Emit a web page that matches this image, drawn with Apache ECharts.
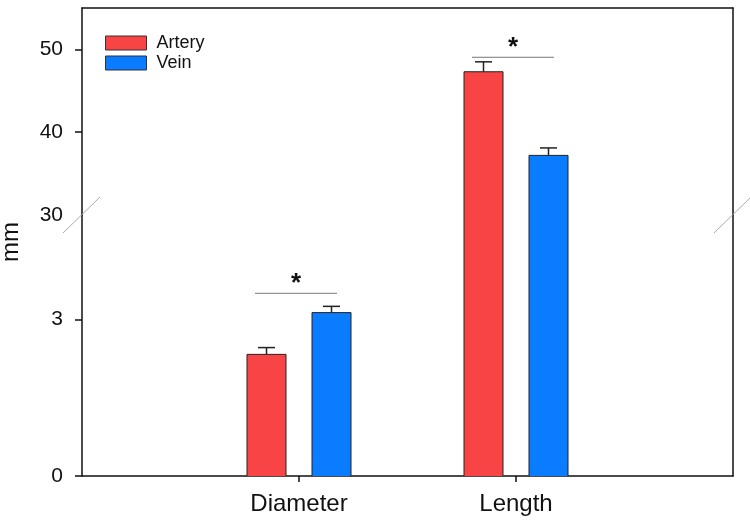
<!DOCTYPE html>
<html>
<head>
<meta charset="utf-8">
<title>Artery vs Vein</title>
<script src="https://cdn.jsdelivr.net/npm/echarts@6/dist/echarts.min.js"></script>
<style>
  html, body { margin: 0; padding: 0; background: #fff; }
  #chart { width: 750px; height: 525px; }
</style>
</head>
<body>
<div id="chart"></div>
<script>
// data
const categories = ['Diameter', 'Length'];
const arteryMean = [2.33, 47.3];
const arteryErr = [0.13, 1.2];
const veinMean = [3.13, 37.2];
const veinErr = [0.12, 0.9];
const sigLevel = [3.5, 49.05];
// broken axis: lower part 0-5, upper part 30-55
const lowerRange = [0, 5];
const upperRange = [30, 55];
const lowerTicks = [0, 3];
const upperTicks = [40, 50];
const upperLabels = [30, 40, 50];

const FONT = 'Liberation Sans, Arial, sans-serif';
const RED = '#F84444';
const BLUE = '#0A7CFF';
const BAR_W = 39;
const OFFSET = 32.5;

const axisCats = [''].concat(categories, ['']);
const arteryData = categories.map((c, i) => [c, arteryMean[i], arteryErr[i]]);
const veinData = categories.map((c, i) => [c, veinMean[i], veinErr[i]]);
const sigData = categories.map((c, i) => [c, sigLevel[i]]);

// bar with outline + error bar, clipped by hand so the break has no line across it
function barRender(offset) {
  return function (params, api) {
    const cs = params.coordSys;
    const cat = api.value(0), v = api.value(1), e = api.value(2);
    const top = api.coord([cat, v]);
    const base = api.coord([cat, 0]);
    const errTop = api.coord([cat, v + e]);
    const yMin = cs.y, yMax = cs.y + cs.height;
    const y0 = Math.max(top[1], yMin), y1 = Math.min(base[1], yMax);
    if (y1 <= y0) return { type: 'group', children: [] };
    const cx = top[0] + offset;
    const x0 = cx - BAR_W / 2, x1 = cx + BAR_W / 2;
    const line = { stroke: '#222', lineWidth: 1 };
    const kids = [
      { type: 'rect', shape: { x: x0, y: y0, width: BAR_W, height: y1 - y0 }, style: { fill: api.style().fill } },
      { type: 'line', shape: { x1: x0, y1: y0, x2: x0, y2: y1 }, style: line },
      { type: 'line', shape: { x1: x1, y1: y0, x2: x1, y2: y1 }, style: line }
    ];
    if (top[1] >= yMin) {
      kids.push({ type: 'line', shape: { x1: x0, y1: y0, x2: x1, y2: y0 }, style: line });
      const eb = { stroke: '#222', lineWidth: 1.5 };
      kids.push({ type: 'line', shape: { x1: cx, y1: top[1], x2: cx, y2: errTop[1] }, style: eb });
      kids.push({ type: 'line', shape: { x1: cx - 8.5, y1: errTop[1], x2: cx + 8.5, y2: errTop[1] }, style: eb });
    }
    return { type: 'group', children: kids };
  };
}

function sigRender(params, api) {
  const cs = params.coordSys;
  const p = api.coord([api.value(0), api.value(1)]);
  if (p[1] < cs.y || p[1] > cs.y + cs.height) return { type: 'group', children: [] };
  return {
    type: 'group',
    children: [
      { type: 'line', shape: { x1: p[0] - 44, y1: p[1], x2: p[0] + 38, y2: p[1] }, style: { stroke: '#777', lineWidth: 1 } },
      { type: 'text', x: p[0] - 3, y: p[1] - 22, style: { text: '*', font: 'bold 26px ' + FONT, fill: '#111', align: 'center', verticalAlign: 'top' } }
    ]
  };
}

function breakRender(params) {
  const cs = params.coordSys;
  const kids = [cs.x, cs.x + cs.width].map(x => ({
    type: 'line',
    shape: { x1: x - 19, y1: cs.y + 18, x2: x + 18, y2: cs.y - 18 },
    style: { stroke: '#aaa', lineWidth: 1 }
  }));
  return { type: 'group', children: kids };
}

const frameLine = { show: true, lineStyle: { color: '#111', width: 1.5 } };
const tickFn = (i, v) => v !== '';

function catAxis(grid, pos, withLabels) {
  return {
    type: 'category', gridIndex: grid, position: pos, data: axisCats, boundaryGap: false,
    axisLine: frameLine,
    axisTick: { show: withLabels, interval: tickFn, length: 6, lineStyle: { color: '#111', width: 1.5 } },
    axisLabel: { show: withLabels, interval: tickFn, fontSize: 24, fontFamily: FONT, color: '#111', margin: 16 },
    splitLine: { show: false }
  };
}

function valAxis(grid, pos, range, ticks, labels) {
  const show = !!ticks;
  return {
    type: 'value', gridIndex: grid, position: pos, min: range[0], max: range[1],
    axisLine: frameLine,
    axisTick: { show: show, customValues: ticks || [], length: 7, lineStyle: { color: '#111', width: 1.5 } },
    axisLabel: { show: show, customValues: labels || [], fontSize: 21, fontFamily: FONT, color: '#111', margin: 19 },
    splitLine: { show: false }
  };
}

const chart = echarts.init(document.getElementById('chart'));

const series = [];
[0, 1].forEach(g => {
  const yIdx = g * 2;
  series.push({
    name: 'Artery', type: 'custom', xAxisIndex: g, yAxisIndex: yIdx,
    itemStyle: { color: RED }, encode: { x: 0, y: 1 },
    renderItem: barRender(-OFFSET), data: arteryData
  });
  series.push({
    name: 'Vein', type: 'custom', xAxisIndex: g, yAxisIndex: yIdx,
    itemStyle: { color: BLUE }, encode: { x: 0, y: 1 },
    renderItem: barRender(OFFSET), data: veinData
  });
  series.push({
    type: 'custom', xAxisIndex: g, yAxisIndex: yIdx, silent: true,
    encode: { x: 0, y: 1 }, renderItem: sigRender, data: sigData
  });
});
series.push({
  type: 'custom', xAxisIndex: 0, yAxisIndex: 0, silent: true, z: 10,
  encode: { x: 0, y: 1 }, renderItem: breakRender, data: [['', 0]]
});

chart.setOption({
  animation: false,
  textStyle: { fontFamily: FONT },
  grid: [
    { left: 82, right: 17, top: 215, bottom: 49 },
    { left: 82, right: 17, top: 8, height: 207 }
  ],
  legend: {
    data: ['Artery', 'Vein'],
    orient: 'vertical', left: 100, top: 29,
    icon: 'rect', itemWidth: 41, itemHeight: 14, itemGap: 2,
    itemStyle: { borderColor: '#333', borderWidth: 1 },
    textStyle: { fontSize: 18, color: '#111', lineHeight: 18, padding: [0, 0, 0, 5] }
  },
  xAxis: [catAxis(0, 'bottom', true), catAxis(1, 'top', false)],
  yAxis: [
    valAxis(0, 'left', lowerRange, lowerTicks, lowerTicks),
    valAxis(0, 'right', lowerRange),
    valAxis(1, 'left', upperRange, upperTicks, upperLabels),
    valAxis(1, 'right', upperRange)
  ],
  graphic: [{
    type: 'text', x: 11, y: 242, rotation: Math.PI / 2,
    style: { text: 'mm', font: '24px ' + FONT, fill: '#111', align: 'center', verticalAlign: 'middle' }
  }],
  series: series
});
</script>
</body>
</html>
